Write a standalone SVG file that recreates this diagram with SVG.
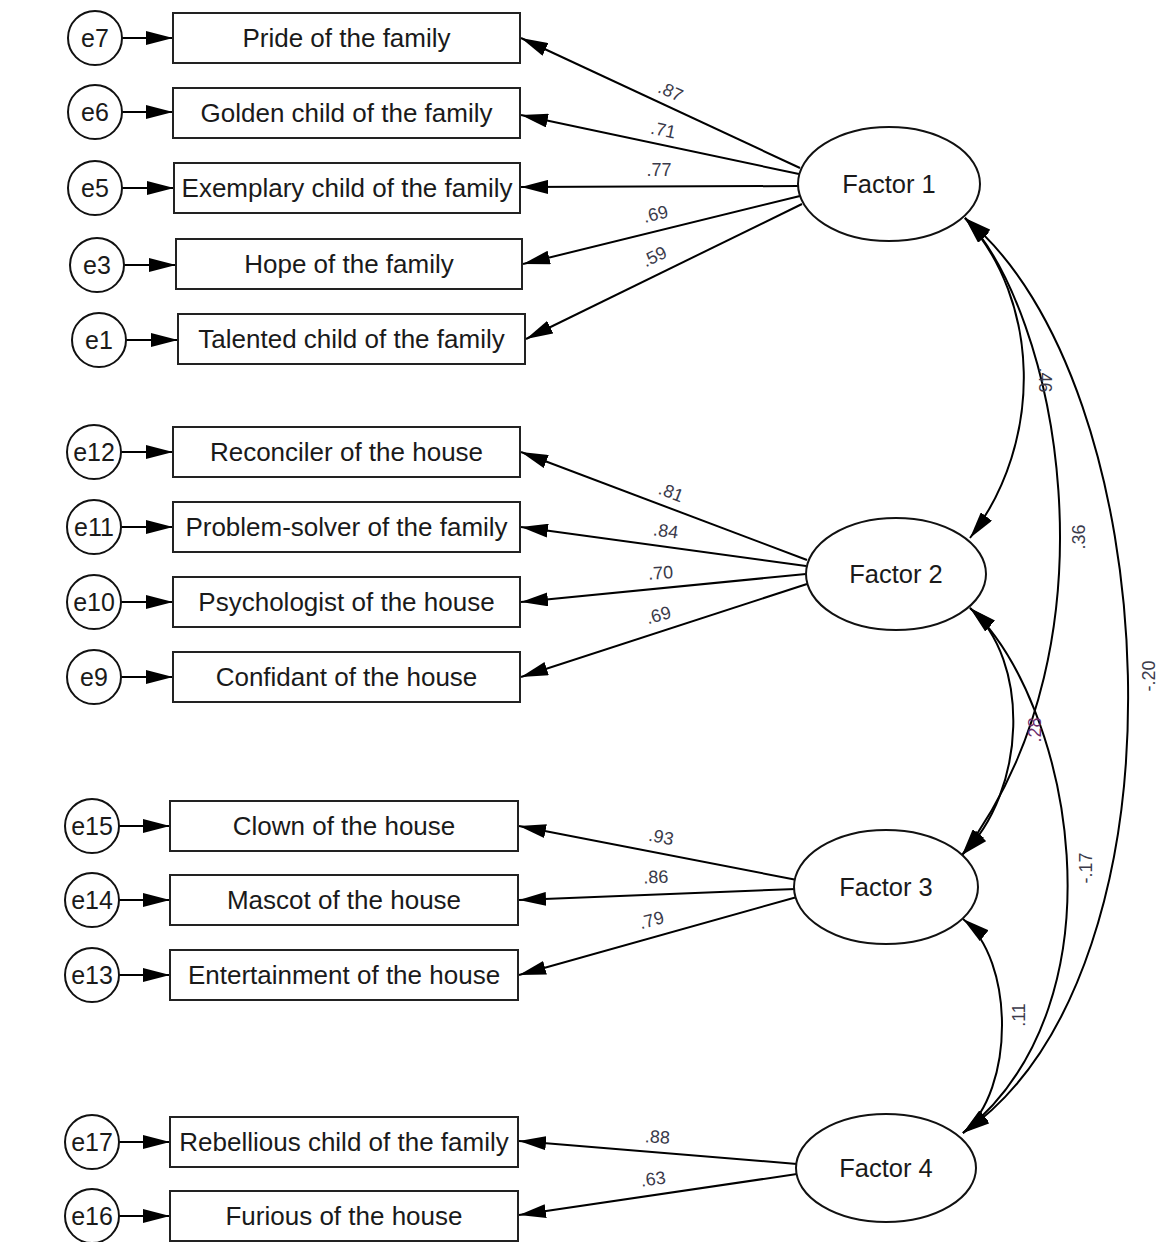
<svg xmlns="http://www.w3.org/2000/svg" width="1165" height="1242" viewBox="0 0 1165 1242">
<defs>
<marker id="ah" markerUnits="userSpaceOnUse" markerWidth="28" markerHeight="14" refX="27" refY="7" orient="auto-start-reverse">
<path d="M0,0 L27,7 L0,14 z" fill="#000"/>
</marker>
<style>
.box{fill:#fff;stroke:#222;stroke-width:2}
.err{fill:#fff;stroke:#111;stroke-width:2}
.fac{fill:#fff;stroke:#111;stroke-width:2}
.t{font-family:"Liberation Sans",Arial,sans-serif;font-size:26px;fill:#1a1a1a;text-anchor:middle}
.tf{font-family:"Liberation Sans",Arial,sans-serif;font-size:25.5px;fill:#1a1a1a;text-anchor:middle}
.te{font-family:"Liberation Sans",Arial,sans-serif;font-size:25px;fill:#1a1a1a;text-anchor:middle}
.ln{stroke:#000;stroke-width:2;fill:none;marker-end:url(#ah)}
.cv{stroke:#000;stroke-width:2;fill:none;marker-end:url(#ah);marker-start:url(#ah)}
.lb{font-family:"Liberation Sans",Arial,sans-serif;font-size:18px;fill:#3a3a4a;text-anchor:middle}
</style>
</defs>
<rect width="1165" height="1242" fill="#fff"/>

<g id="connectors">
<line class="ln" x1="122" y1="38" x2="173" y2="38"/>
<line class="ln" x1="122" y1="112" x2="173" y2="112"/>
<line class="ln" x1="122" y1="188" x2="174" y2="188"/>
<line class="ln" x1="124" y1="265" x2="176" y2="265"/>
<line class="ln" x1="126" y1="340" x2="178" y2="340"/>
<line class="ln" x1="121" y1="452" x2="173" y2="452"/>
<line class="ln" x1="121" y1="527" x2="173" y2="527"/>
<line class="ln" x1="121" y1="602" x2="173" y2="602"/>
<line class="ln" x1="121" y1="677" x2="173" y2="677"/>
<line class="ln" x1="119" y1="826" x2="170" y2="826"/>
<line class="ln" x1="119" y1="900" x2="170" y2="900"/>
<line class="ln" x1="119" y1="975" x2="170" y2="975"/>
<line class="ln" x1="119" y1="1142" x2="170" y2="1142"/>
<line class="ln" x1="119" y1="1216" x2="170" y2="1216"/>
<line class="ln" x1="800" y1="168" x2="521" y2="38"/>
<line class="ln" x1="799" y1="174" x2="521" y2="115"/>
<line class="ln" x1="798" y1="186" x2="521" y2="187"/>
<line class="ln" x1="800" y1="196" x2="523" y2="264"/>
<line class="ln" x1="802" y1="204" x2="526" y2="339"/>
<line class="ln" x1="807" y1="560" x2="521" y2="452"/>
<line class="ln" x1="806" y1="566" x2="521" y2="527"/>
<line class="ln" x1="806" y1="574" x2="521" y2="602"/>
<line class="ln" x1="807" y1="584" x2="521" y2="677"/>
<line class="ln" x1="797" y1="880" x2="519" y2="826"/>
<line class="ln" x1="796" y1="889" x2="519" y2="900"/>
<line class="ln" x1="797" y1="897" x2="519" y2="975"/>
<line class="ln" x1="797" y1="1164" x2="519" y2="1141"/>
<line class="ln" x1="797" y1="1174" x2="519" y2="1215"/>
<path class="cv" d="M965,218 C1040,300 1045,440 970,538"/>
<path class="cv" d="M965,218 C1055,310 1125,640 962,855"/>
<path class="cv" d="M965,218 C1165,380 1200,970 963,1133"/>
<path class="cv" d="M970,608 C1030,660 1028,790 962,855"/>
<path class="cv" d="M970,608 C1070,700 1130,1000 963,1133"/>
<path class="cv" d="M963,919 C1015,960 1015,1090 963,1133"/>
<text class="lb" transform="translate(668,97) rotate(25)">.87</text>
<text class="lb" transform="translate(662,136) rotate(12)">.71</text>
<text class="lb" transform="translate(659,176)">.77</text>
<text class="lb" transform="translate(657,220) rotate(-14)">.69</text>
<text class="lb" transform="translate(657,262) rotate(-26)">.59</text>
<text class="lb" transform="translate(669,498) rotate(21)">.81</text>
<text class="lb" transform="translate(665,537) rotate(8)">.84</text>
<text class="lb" transform="translate(661,579) rotate(-4)">.70</text>
<text class="lb" transform="translate(660,621) rotate(-15)">.69</text>
<text class="lb" transform="translate(660,843) rotate(11)">.93</text>
<text class="lb" transform="translate(656,883) rotate(-2)">.86</text>
<text class="lb" transform="translate(653,926) rotate(-15)">.79</text>
<text class="lb" transform="translate(657,1143) rotate(4)">.88</text>
<text class="lb" transform="translate(654,1185) rotate(-8)">.63</text>
<text class="lb" transform="translate(1039,380) rotate(90)">.46</text>
<text class="lb" transform="translate(1085,537) rotate(-90)">.36</text>
<text class="lb" transform="translate(1155,676) rotate(-90)">-.20</text>
<text class="lb" transform="translate(1041,730) rotate(-90)" style="fill:#6a2a6a">.28</text>
<text class="lb" transform="translate(1092,868) rotate(-90)">-.17</text>
<text class="lb" transform="translate(1025,1015) rotate(-90)">.11</text>
</g>

<g id="e7"><circle class="err" cx="95" cy="38" r="27"/><text class="te" x="95" y="47">e7</text></g>
<g id="e6"><circle class="err" cx="95" cy="112" r="27"/><text class="te" x="95" y="121">e6</text></g>
<g id="e5"><circle class="err" cx="95" cy="188" r="27"/><text class="te" x="95" y="197">e5</text></g>
<g id="e3"><circle class="err" cx="97" cy="265" r="27"/><text class="te" x="97" y="274">e3</text></g>
<g id="e1"><circle class="err" cx="99" cy="340" r="27"/><text class="te" x="99" y="349">e1</text></g>
<g id="e12"><circle class="err" cx="94" cy="452" r="27"/><text class="te" x="94" y="461">e12</text></g>
<g id="e11"><circle class="err" cx="94" cy="527" r="27"/><text class="te" x="94" y="536">e11</text></g>
<g id="e10"><circle class="err" cx="94" cy="602" r="27"/><text class="te" x="94" y="611">e10</text></g>
<g id="e9"><circle class="err" cx="94" cy="677" r="27"/><text class="te" x="94" y="686">e9</text></g>
<g id="e15"><circle class="err" cx="92" cy="826" r="27"/><text class="te" x="92" y="835">e15</text></g>
<g id="e14"><circle class="err" cx="92" cy="900" r="27"/><text class="te" x="92" y="909">e14</text></g>
<g id="e13"><circle class="err" cx="92" cy="975" r="27"/><text class="te" x="92" y="984">e13</text></g>
<g id="e17"><circle class="err" cx="92" cy="1142" r="27"/><text class="te" x="92" y="1151">e17</text></g>
<g id="e16"><circle class="err" cx="92" cy="1216" r="27"/><text class="te" x="92" y="1225">e16</text></g>

<g id="pride"><rect class="box" x="173" y="13" width="347" height="50"/><text class="t" x="346.5" y="47">Pride of the family</text></g>
<g id="golden"><rect class="box" x="173" y="88" width="347" height="50"/><text class="t" x="346.5" y="122">Golden child of the family</text></g>
<g id="exemplary"><rect class="box" x="174" y="163" width="346" height="50"/><text class="t" x="347" y="197">Exemplary child of the family</text></g>
<g id="hope"><rect class="box" x="176" y="239" width="346" height="50"/><text class="t" x="349" y="273">Hope of the family</text></g>
<g id="talented"><rect class="box" x="178" y="314" width="347" height="50"/><text class="t" x="351.5" y="348">Talented child of the family</text></g>
<g id="reconciler"><rect class="box" x="173" y="427" width="347" height="50"/><text class="t" x="346.5" y="461">Reconciler of the house</text></g>
<g id="problem"><rect class="box" x="173" y="502" width="347" height="50"/><text class="t" x="346.5" y="536">Problem-solver of the family</text></g>
<g id="psychologist"><rect class="box" x="173" y="577" width="347" height="50"/><text class="t" x="346.5" y="611">Psychologist of the house</text></g>
<g id="confidant"><rect class="box" x="173" y="652" width="347" height="50"/><text class="t" x="346.5" y="686">Confidant of the house</text></g>
<g id="clown"><rect class="box" x="170" y="801" width="348" height="50"/><text class="t" x="344" y="835">Clown of the house</text></g>
<g id="mascot"><rect class="box" x="170" y="875" width="348" height="50"/><text class="t" x="344" y="909">Mascot of the house</text></g>
<g id="entertainment"><rect class="box" x="170" y="950" width="348" height="50"/><text class="t" x="344" y="984">Entertainment of the house</text></g>
<g id="rebellious"><rect class="box" x="170" y="1117" width="348" height="50"/><text class="t" x="344" y="1151">Rebellious child of the family</text></g>
<g id="furious"><rect class="box" x="170" y="1191" width="348" height="50"/><text class="t" x="344" y="1225">Furious of the house</text></g>

<g id="factor1"><ellipse class="fac" cx="889" cy="184" rx="91" ry="57"/><text class="tf" x="889" y="193">Factor 1</text></g>
<g id="factor2"><ellipse class="fac" cx="896" cy="574" rx="90" ry="56"/><text class="tf" x="896" y="583">Factor 2</text></g>
<g id="factor3"><ellipse class="fac" cx="886" cy="887" rx="92" ry="57"/><text class="tf" x="886" y="896">Factor 3</text></g>
<g id="factor4"><ellipse class="fac" cx="886" cy="1168" rx="90" ry="54"/><text class="tf" x="886" y="1177">Factor 4</text></g>
</svg>
